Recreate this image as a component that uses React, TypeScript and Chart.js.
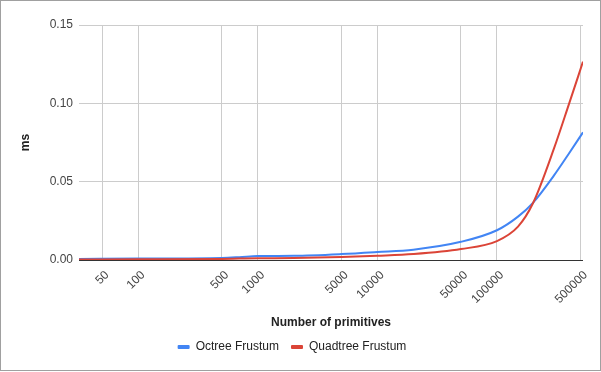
import React, { useEffect, useRef } from "react";
import { Chart, registerables } from "chart.js";

Chart.register(...registerables);

const primitives = [32, 100, 500, 700, 1000, 2000, 5000, 10000, 20000, 50000, 100000, 150000, 200000, 300000, 400000, 524288];
const octreeMs = [0.0007, 0.0009, 0.0013, 0.0018, 0.0025, 0.0027, 0.0038, 0.0051, 0.0066, 0.0116, 0.019, 0.0277, 0.0365, 0.054, 0.068, 0.0815];
const quadtreeMs = [0.0003, 0.0004, 0.0007, 0.0009, 0.0011, 0.0013, 0.0019, 0.0027, 0.0038, 0.007, 0.0121, 0.0213, 0.0362, 0.0712, 0.0995, 0.1266];
const xTicks = [50, 100, 500, 1000, 5000, 10000, 50000, 100000, 500000];
const yTicks = [0, 0.05, 0.1, 0.15];
const seriesNames = ["Octree Frustum", "Quadtree Frustum"];

const FONT = "Arial, 'Liberation Sans', sans-serif";

export default function App() {
  const ref = useRef<HTMLCanvasElement | null>(null);
  useEffect(() => {
    if (!ref.current) return;
    const chart = new Chart(ref.current, {
      type: "line",
      data: {
        datasets: [
          {
            label: seriesNames[0],
            data: primitives.map((x, i) => ({ x, y: octreeMs[i] })),
            borderColor: "#4285f4",
            backgroundColor: "#4285f4",
            borderWidth: 2,
            pointRadius: 0,
            cubicInterpolationMode: "monotone",
            order: 1,
          },
          {
            label: seriesNames[1],
            data: primitives.map((x, i) => ({ x, y: quadtreeMs[i] })),
            borderColor: "#db4437",
            backgroundColor: "#db4437",
            borderWidth: 2,
            pointRadius: 0,
            cubicInterpolationMode: "monotone",
            order: 0,
          },
        ],
      },
      options: {
        animation: false,
        responsive: false,
        maintainAspectRatio: false,
        layout: { padding: { top: 24, right: 17, bottom: 7, left: 0 } },
        plugins: {
          tooltip: { enabled: false },
          legend: {
            position: "bottom",
            labels: {
              font: { family: FONT, size: 12 },
              color: "#222",
              boxWidth: 12,
              boxHeight: 4,
              padding: 12,
              useBorderRadius: true,
              borderRadius: 1,
              sort: (a: any, b: any) => a.datasetIndex - b.datasetIndex,
              generateLabels: (c: any) =>
                (Chart as any).defaults.plugins.legend.labels
                  .generateLabels(c)
                  .map((l: any) => ({ ...l, lineWidth: 0 })),
            },
          },
        },
        scales: {
          x: {
            type: "logarithmic",
            min: 32,
            max: 524288,
            afterBuildTicks: (scale: any) => {
              scale.ticks = xTicks.map((v) => ({ value: v }));
            },
            afterFit: (scale: any) => {
              scale.height = 69;
            },
            border: { display: false },
            grid: { color: "#cccccc", drawTicks: false, lineWidth: 1 },
            ticks: {
              autoSkip: false,
              minRotation: 45,
              maxRotation: 45,
              padding: 8,
              labelOffset: 5,
              color: "#444",
              font: { family: FONT, size: 12 },
              callback: (v: any) => String(v),
            },
            title: {
              display: true,
              text: "Number of primitives",
              color: "#222",
              font: { family: FONT, size: 12, weight: "bold" },
              padding: { top: 4, bottom: -1 },
            },
          },
          y: {
            type: "linear",
            min: 0,
            max: 0.15,
            afterBuildTicks: (scale: any) => {
              scale.ticks = yTicks.map((v) => ({ value: v }));
            },
            afterFit: (scale: any) => {
              scale.width = 78;
            },
            border: { display: false },
            grid: {
              drawTicks: false,
              color: (ctx: any) => (ctx.tick && ctx.tick.value === 0 ? "#333333" : "#cccccc"),
            },
            ticks: {
              padding: 6,
              color: "#444",
              font: { family: FONT, size: 12 },
              callback: (v: any) => Number(v).toFixed(2),
            },
            title: {
              display: true,
              text: "ms",
              color: "#222",
              font: { family: FONT, size: 12, weight: "bold" },
              padding: { top: 17, bottom: 0 },
            },
          },
        },
      },
    });
    return () => chart.destroy();
  }, []);
  return (
    <div
      style={{
        position: "fixed",
        left: 0,
        top: 0,
        width: 599,
        height: 369,
        border: "1px solid #a0a0a0",
        background: "#fff",
      }}
    >
      <canvas ref={ref} width={599} height={369} style={{ display: "block" }} />
    </div>
  );
}
